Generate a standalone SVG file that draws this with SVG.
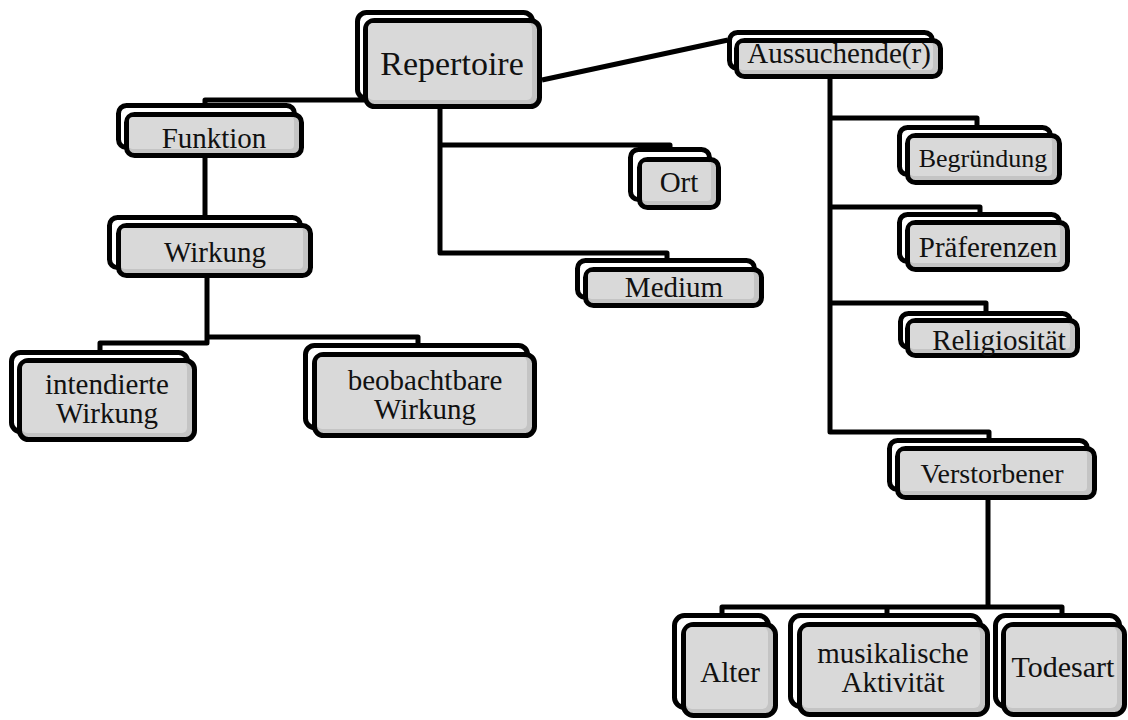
<svg xmlns="http://www.w3.org/2000/svg" width="1128" height="720" viewBox="0 0 1128 720">
<style>
.b{fill:#ffffff;stroke:#000;stroke-width:5}
.f{fill:#c4c4c4;stroke:#000;stroke-width:5}
.h{fill:#d9d9d9}
.c{fill:none;stroke:#000;stroke-width:5;stroke-linejoin:round}
.t{font-family:'Liberation Serif','Times New Roman','DejaVu Serif',serif;font-size:29px;fill:#111;text-anchor:middle}
</style>
<rect width="1128" height="720" fill="#fff"/>
<g id="connectors" class="c">
<path class="c" d="M205 104 V100 H364"/>
<path class="c" d="M205 158 V216"/>
<path class="c" d="M207 278 V343 H100 V351"/>
<path class="c" d="M207 337 H418 V344"/>
<path class="c" d="M440 109 V253 H667 V259"/>
<path class="c" d="M440 145 H670 V148"/>
<path class="c" d="M542 80 L728 40"/>
<path class="c" d="M830 79 V432 H989 V439"/>
<path class="c" d="M830 118 H977 V126"/>
<path class="c" d="M830 207 H980 V213"/>
<path class="c" d="M830 303 H986 V312"/>
<path class="c" d="M988 500 V607"/>
<path class="c" d="M722 614 V607 H1062 V614"/>
<path class="c" d="M887 607 V614"/>
</g>
<g font-family="Liberation Serif, Times New Roman, DejaVu Serif, serif">
<g id="n-repertoire"><rect class="b" x="357.5" y="12.5" width="175" height="86" rx="9"/><rect class="f" x="365.5" y="20.5" width="174" height="86" rx="9"/><rect class="h" x="368" y="23" width="164" height="77" rx="5"/><text class="t" x="452" y="75" font-size="34" style="font-size:34px">Repertoire</text></g>
<g id="n-funktion"><rect class="b" x="118.5" y="105.5" width="176" height="42" rx="8"/><rect class="f" x="126.5" y="114.5" width="175" height="41" rx="8"/><rect class="h" x="129" y="117" width="165" height="32" rx="4"/><text class="t" x="214" y="148">Funktion</text></g>
<g id="n-wirkung"><rect class="b" x="109.5" y="217.5" width="191" height="50" rx="8"/><rect class="f" x="118.5" y="225.5" width="192" height="50" rx="8"/><rect class="h" x="121" y="228" width="182" height="41" rx="4"/><text class="t" x="215" y="262">Wirkung</text></g>
<g id="n-intendierte"><rect class="b" x="11.5" y="352.5" width="176" height="79" rx="9"/><rect class="f" x="19.5" y="360.5" width="175" height="79" rx="9"/><rect class="h" x="22" y="363" width="165" height="70" rx="5"/><text class="t" x="107" y="394">intendierte</text><text class="t" x="107" y="423">Wirkung</text></g>
<g id="n-beobachtbare"><rect class="b" x="305.5" y="345.5" width="222" height="82" rx="9"/><rect class="f" x="314.5" y="354.5" width="220" height="81" rx="9"/><rect class="h" x="317" y="357" width="210" height="72" rx="5"/><text class="t" x="425" y="390">beobachtbare</text><text class="t" x="425" y="419">Wirkung</text></g>
<g id="n-ort"><rect class="b" x="630.5" y="149.5" width="79" height="50" rx="8"/><rect class="f" x="639.5" y="159.5" width="79" height="48" rx="8"/><rect class="h" x="642" y="162" width="69" height="39" rx="4"/><text class="t" x="679" y="192">Ort</text></g>
<g id="n-medium"><rect class="b" x="577.5" y="260.5" width="177" height="37" rx="8"/><rect class="f" x="585.5" y="269.5" width="176" height="36" rx="8"/><rect class="h" x="588" y="272" width="166" height="27" rx="4"/><text class="t" x="674" y="297">Medium</text></g>
<g id="n-aussuchende"><rect class="b" x="729.5" y="32.5" width="203" height="36" rx="8"/><rect class="f" x="736.5" y="40.5" width="204" height="36" rx="8"/><rect class="h" x="739" y="43" width="194" height="27" rx="4"/><text class="t" x="839" y="63">Aussuchende(r)</text></g>
<g id="n-begruendung"><rect class="b" x="899.5" y="127.5" width="151" height="47" rx="8"/><rect class="f" x="907.5" y="135.5" width="152" height="47" rx="8"/><rect class="h" x="910" y="138" width="142" height="38" rx="4"/><text class="t" x="983" y="167" style="font-size:26px">Begründung</text></g>
<g id="n-praeferenzen"><rect class="b" x="899.5" y="214.5" width="160" height="47" rx="8"/><rect class="f" x="907.5" y="222.5" width="160" height="47" rx="8"/><rect class="h" x="910" y="225" width="150" height="38" rx="4"/><text class="t" x="988" y="257">Präferenzen</text></g>
<g id="n-religiositaet"><rect class="b" x="900.5" y="313.5" width="170" height="34" rx="8"/><rect class="f" x="907.5" y="320.5" width="170" height="35" rx="8"/><rect class="h" x="910" y="323" width="160" height="26" rx="4"/><text class="t" x="999" y="350">Religiosität</text></g>
<g id="n-verstorbener"><rect class="b" x="889.5" y="440.5" width="198" height="49" rx="8"/><rect class="f" x="897.5" y="448.5" width="197" height="49" rx="8"/><rect class="h" x="900" y="451" width="187" height="40" rx="4"/><text class="t" x="992" y="483" style="font-size:28px">Verstorbener</text></g>
<g id="n-alter"><rect class="b" x="674.5" y="615.5" width="94" height="92" rx="10"/><rect class="f" x="683.5" y="624.5" width="92" height="91" rx="10"/><rect class="h" x="686" y="627" width="82" height="82" rx="6"/><text class="t" x="730" y="682">Alter</text></g>
<g id="n-musikalische"><rect class="b" x="790.5" y="615.5" width="190" height="91" rx="10"/><rect class="f" x="799.5" y="624.5" width="188" height="90" rx="10"/><rect class="h" x="802" y="627" width="178" height="81" rx="6"/><text class="t" x="893" y="663">musikalische</text><text class="t" x="893" y="692">Aktivität</text></g>
<g id="n-todesart"><rect class="b" x="995.5" y="615.5" width="124" height="91" rx="10"/><rect class="f" x="1003.5" y="624.5" width="121" height="90" rx="10"/><rect class="h" x="1006" y="627" width="111" height="81" rx="6"/><text class="t" x="1063" y="677" style="font-size:30px">Todesart</text></g>
</g>
</svg>
